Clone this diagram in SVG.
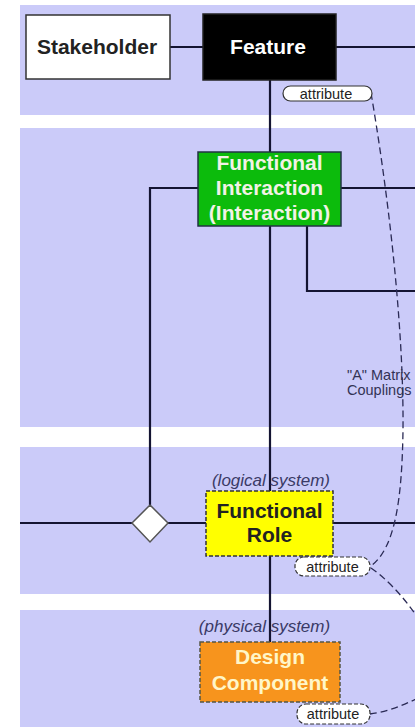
<svg xmlns="http://www.w3.org/2000/svg" width="415" height="727" viewBox="0 0 415 727">
<style>
.band{fill:#cbcbf9}
.ln{fill:none;stroke:#141432;stroke-width:2.2}
.dash{fill:none;stroke:#2a2a55;stroke-width:1.3;stroke-dasharray:7 4}
.nt{font-family:"Liberation Sans",Arial,sans-serif;font-weight:bold;font-size:21px;text-anchor:middle}
.lbl{font-family:"Liberation Sans",Arial,sans-serif;font-style:italic;font-size:17px;fill:#3a3a66;text-anchor:middle}
.att{font-family:"Liberation Sans",Arial,sans-serif;font-size:14.5px;fill:#222;text-anchor:middle}
.pill{fill:#fff;stroke:#333;stroke-width:1.2}
</style>
<rect width="415" height="727" fill="#fff"/>
<rect class="band" x="20" y="5" width="395" height="110"/>
<rect class="band" x="20" y="128" width="395" height="299"/>
<rect class="band" x="20" y="447" width="395" height="147"/>
<rect class="band" x="20" y="610" width="395" height="117"/>
<g id="connectors">
<path class="ln" d="M170 47 H203"/>
<path class="ln" d="M336 47 H415"/>
<path class="ln" d="M270 80 V642"/>
<path class="ln" d="M198 188 H150 V505"/>
<path class="ln" d="M341 188 H415"/>
<path class="ln" d="M307 226 V291 H415"/>
<path class="ln" d="M20 523 H132"/>
<path class="ln" d="M168 523 H206"/>
<path class="ln" d="M333 523 H415"/>
<path class="dash" d="M371 93 C386 180 404 320 403 430 C402 500 395 548 371 566"/>
<path class="dash" d="M371 568 C385 578 400 592 418 618"/>
<path class="dash" d="M418 698 C402 706 386 712 370 714"/>
</g>
<g id="stakeholder">
<rect x="26" y="15" width="144" height="64" fill="#fff" stroke="#333" stroke-width="1.5"/>
<text class="nt" x="97" y="54" fill="#222">Stakeholder</text>
</g>
<g id="feature">
<rect x="203" y="14" width="133" height="66" fill="#000" stroke="#222" stroke-width="1.5"/>
<text class="nt" x="268" y="54" fill="#fff">Feature</text>
</g>
<g id="attribute-feature">
<rect class="pill" x="283" y="86" width="89" height="15" rx="7.5"/>
<text class="att" x="326" y="98.5">attribute</text>
</g>
<g id="functional-interaction">
<rect x="198" y="152" width="143" height="74" fill="#0cbb0c" stroke="#234" stroke-width="1.5"/>
<text class="nt" x="269.5" y="170" fill="#f2f2e6">Functional</text>
<text class="nt" x="269.5" y="195" fill="#f2f2e6">Interaction</text>
<text class="nt" x="269.5" y="220" fill="#f2f2e6">(Interaction)</text>
</g>
<g id="a-matrix">
<text font-family="Liberation Sans, Arial, sans-serif" font-size="14.5" fill="#333355"><tspan x="347" y="380">"A" Matrix</tspan><tspan x="347" y="395">Couplings</tspan></text>
</g>
<g id="diamond">
<polygon points="150,505 168,523 150,542 132,523" fill="#fff" stroke="#555" stroke-width="1.5"/>
</g>
<g id="functional-role">
<text class="lbl" x="271" y="486">(logical system)</text>
<rect x="206" y="491" width="127" height="65" fill="#ffff00" stroke="#333" stroke-width="1.5" stroke-dasharray="4 2"/>
<text class="nt" x="269.5" y="518" fill="#222">Functional</text>
<text class="nt" x="269.5" y="542" fill="#222">Role</text>
</g>
<g id="attribute-role">
<rect class="pill" x="295" y="557" width="75" height="19" rx="9" stroke-dasharray="4 2"/>
<text class="att" x="332.5" y="571.5">attribute</text>
</g>
<g id="design-component">
<text class="lbl" x="264.5" y="632">(physical system)</text>
<rect x="200" y="642" width="140" height="60" fill="#f7941d" stroke="#554" stroke-width="1.5" stroke-dasharray="4 2"/>
<text class="nt" x="270" y="664" fill="#fff6c8">Design</text>
<text class="nt" x="270" y="690" fill="#fff6c8">Component</text>
</g>
<g id="attribute-component">
<rect class="pill" x="297" y="704" width="73" height="20" rx="9" stroke-dasharray="4 2"/>
<text class="att" x="333" y="719">attribute</text>
</g>
</svg>
